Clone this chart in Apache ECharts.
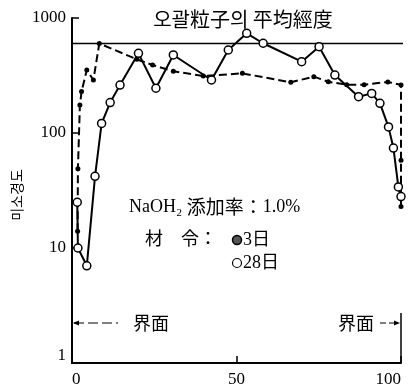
<!DOCTYPE html>
<html>
<head>
<meta charset="utf-8">
<script src="https://cdn.jsdelivr.net/npm/echarts@6/dist/echarts.min.js"></script>
<style>
  html, body { margin: 0; padding: 0; background: #fff; }
  #chart { width: 418px; height: 392px; }
</style>
</head>
<body>
<div id="chart"></div>
<script>
// Position across the specimen (%), 0 and 100 are the two interfaces
const pos3d = [1.7, 1.8, 2.4, 2.9, 4.5, 6.5, 8.3, 19.7, 24.5, 30.8, 39.9, 51.8, 66.5, 73.5, 77.9, 83.5, 88.8, 96, 100, 100, 100];
// Micro-hardness at 3 days of age
const hard3d = [14, 49, 175, 229, 353, 289, 600, 437, 390, 344, 313, 330, 276, 309, 279, 263, 263, 278, 262, 58, 23];

const pos28d = [1.6, 1.8, 4.5, 7, 9, 11.6, 14.6, 20.2, 25.5, 30.8, 42.4, 47.5, 53.1, 58.1, 69.8, 75.1, 79.9, 87.1, 91.1, 93.6, 96.2, 97.7, 99.2, 100];
// Micro-hardness at 28 days of age
const hard28d = [25, 10, 7, 42, 121, 184, 261, 493, 245, 477, 289, 527, 736, 603, 417, 563, 319, 207, 221, 181, 113, 74, 34, 28];

// Mean hardness of the opal particles
const opalMean = 600;

const xTicks = [0, 50, 100];
const yTicks = [1, 10, 100, 1000];

const serif = "'Liberation Serif', 'Noto Sans CJK KR', serif";
const cjk = "'Noto Sans CJK KR', 'Liberation Serif', serif";

const chart = echarts.init(document.getElementById('chart'));

const pairs = (xs, ys) => xs.map((x, i) => [x, ys[i]]);

chart.setOption({
  animation: false,
  backgroundColor: '#fff',
  grid: { left: 72, right: 17, top: 18, bottom: 29, containLabel: false },
  xAxis: {
    type: 'value',
    min: xTicks[0],
    max: xTicks[xTicks.length - 1],
    interval: 50,
    axisLine: { show: true, lineStyle: { color: '#000', width: 2 } },
    axisTick: { show: true, inside: true, length: 7, lineStyle: { color: '#000', width: 1.5 } },
    splitLine: { show: false },
    axisLabel: {
      color: '#000', fontFamily: serif, fontSize: 17, margin: 8,
      alignMinLabel: 'left', alignMaxLabel: 'right'
    }
  },
  yAxis: {
    type: 'log',
    logBase: 10,
    min: yTicks[0],
    max: yTicks[yTicks.length - 1],
    axisLine: { show: true, lineStyle: { color: '#000', width: 2 } },
    axisTick: { show: true, inside: true, length: 7, lineStyle: { color: '#000', width: 1.5 } },
    minorTick: { show: false },
    splitLine: { show: false },
    axisLabel: {
      color: '#000', fontFamily: serif, fontSize: 17, margin: 6,
      formatter: v => (v === yTicks[0] ? '{low|' + v + '}' : String(v)),
      rich: { low: { fontFamily: serif, fontSize: 17, color: '#000', padding: [0, 0, 14, 0] } }
    }
  },
  series: [
    {
      name: 'opal',
      type: 'line',
      data: [[0, opalMean], [107, opalMean]],
      clip: false,
      symbol: 'none',
      lineStyle: { color: '#000', width: 1.5 },
      z: 1
    },
    {
      name: '3日',
      type: 'line',
      data: pairs(pos3d, hard3d),
      clip: false,
      symbol: 'circle',
      symbolSize: 5,
      itemStyle: { color: '#000' },
      lineStyle: { color: '#000', width: 2, type: [8, 4] },
      z: 3
    },
    {
      name: '28日',
      type: 'line',
      data: pairs(pos28d, hard28d),
      clip: false,
      symbol: 'circle',
      symbolSize: 8,
      itemStyle: { color: '#fff', borderColor: '#000', borderWidth: 1.5 },
      lineStyle: { color: '#000', width: 2 },
      z: 4
    }
  ],
  graphic: [
    {
      type: 'text', x: 243, y: 19,
      style: { text: '오괄粒子의 平均經度', font: "20px " + cjk, fill: '#000', align: 'center', verticalAlign: 'middle' }
    },
    {
      type: 'text', x: 17, y: 195, rotation: Math.PI / 2,
      style: { text: '미소경도', font: "14px " + cjk, fill: '#000', align: 'center', verticalAlign: 'middle' }
    },
    {
      type: 'text', x: 129, y: 207,
      style: {
        text: '{a|NaOH₂ }{b|添加率：}{a|1.0%}',
        fill: '#000', align: 'left', verticalAlign: 'middle',
        rich: {
          a: { fontFamily: serif, fontSize: 18, fill: '#000' },
          b: { fontFamily: cjk, fontSize: 19, fill: '#000' }
        }
      }
    },
    {
      type: 'text', x: 145, y: 240,
      style: { text: '材　令：', font: "18px " + serif, fill: '#000', align: 'left', verticalAlign: 'middle' }
    },
    {
      type: 'circle', shape: { cx: 237, cy: 240, r: 4.5 },
      style: { fill: '#555', stroke: '#000', lineWidth: 1.5 }
    },
    {
      type: 'text', x: 243, y: 240,
      style: { text: '3日', font: "18px " + serif, fill: '#000', align: 'left', verticalAlign: 'middle' }
    },
    {
      type: 'circle', shape: { cx: 237, cy: 263, r: 4.5 },
      style: { fill: '#fff', stroke: '#000', lineWidth: 1.2 }
    },
    {
      type: 'text', x: 243, y: 263,
      style: { text: '28日', font: "18px " + serif, fill: '#000', align: 'left', verticalAlign: 'middle' }
    },
    // left interface marker
    {
      type: 'line', shape: { x1: 74, y1: 323, x2: 118, y2: 323 },
      style: { stroke: '#000', lineWidth: 1.2, lineDash: [10, 4] }
    },
    {
      type: 'polygon', shape: { points: [[73, 323], [79, 320.5], [79, 325.5]] },
      style: { fill: '#000' }
    },
    {
      type: 'text', x: 133, y: 323,
      style: { text: '界面', font: "18px " + cjk, fill: '#000', align: 'left', verticalAlign: 'middle' }
    },
    // right interface marker
    {
      type: 'text', x: 338, y: 323,
      style: { text: '界面', font: "18px " + cjk, fill: '#000', align: 'left', verticalAlign: 'middle' }
    },
    {
      type: 'line', shape: { x1: 380, y1: 323, x2: 398, y2: 323 },
      style: { stroke: '#000', lineWidth: 1.2, lineDash: [6, 3] }
    },
    {
      type: 'polygon', shape: { points: [[400, 323], [394, 320.5], [394, 325.5]] },
      style: { fill: '#000' }
    },
    {
      type: 'line', shape: { x1: 401, y1: 313, x2: 401, y2: 363 },
      style: { stroke: '#000', lineWidth: 1.5 }
    }
  ]
});
</script>
</body>
</html>
